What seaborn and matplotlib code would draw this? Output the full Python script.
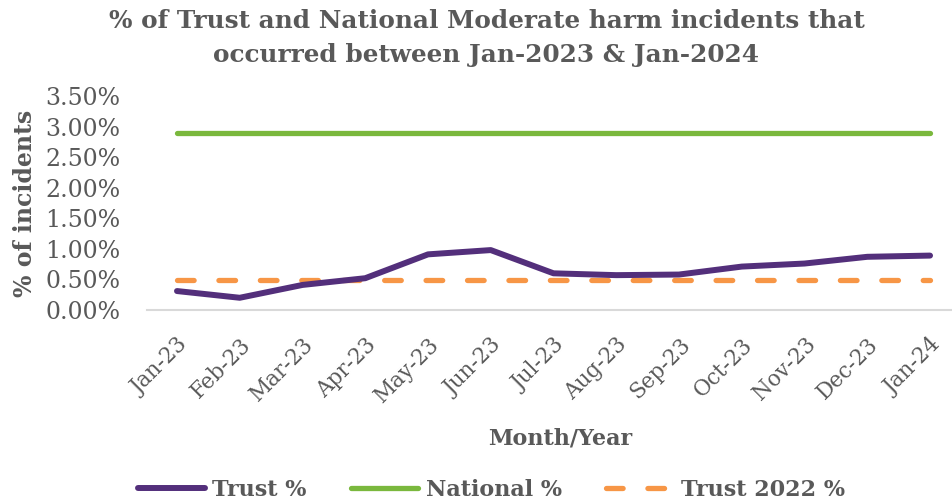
import matplotlib
matplotlib.use("Agg")
import matplotlib.pyplot as plt
import seaborn as sns
import pandas as pd
from matplotlib.ticker import FuncFormatter
from matplotlib.lines import Line2D

# Monthly data (percent of incidents)
months = ["Jan-23", "Feb-23", "Mar-23", "Apr-23", "May-23", "Jun-23", "Jul-23",
          "Aug-23", "Sep-23", "Oct-23", "Nov-23", "Dec-23", "Jan-24"]
trust_pct = [0.31, 0.20, 0.41, 0.52, 0.91, 0.98, 0.60, 0.57, 0.58, 0.71, 0.76, 0.87, 0.89]
national_pct = [2.90] * 13
trust_2022_pct = [0.49] * 13

df = pd.DataFrame({
    "idx": range(len(months)),
    "Month": months,
    "Trust %": trust_pct,
    "National %": national_pct,
    "Trust 2022 %": trust_2022_pct,
})

sns.set_theme(style="white")
plt.rcParams["font.family"] = ["DejaVu Serif", "DejaVu Sans"]

TEXT = "#595959"
PURPLE = "#532F7B"
GREEN = "#7AB83D"
ORANGE = "#F79646"
DASH = [3.15, 4.7]

fig = plt.figure(figsize=(9.52, 5.04), dpi=100)
ax = fig.add_axes([147 / 952, 1 - 310 / 504, 1 - 147 / 952, (310 - 96) / 504])

sns.lineplot(data=df, x="idx", y="National %", ax=ax, color=GREEN, lw=3.8,
             solid_capstyle="round")
sns.lineplot(data=df, x="idx", y="Trust 2022 %", ax=ax, color=ORANGE, lw=3.8)
ax.lines[-1].set_dashes(DASH)
ax.lines[-1].set_dash_capstyle("round")
sns.lineplot(data=df, x="idx", y="Trust %", ax=ax, color=PURPLE, lw=4.3,
             solid_capstyle="round", solid_joinstyle="round")

ax.set_xlim(-0.478, 12.35)
ax.set_ylim(0, 3.5)
ax.set_yticks([0, 0.5, 1.0, 1.5, 2.0, 2.5, 3.0, 3.5])
ax.yaxis.set_major_formatter(FuncFormatter(lambda v, p: f"{v:.2f}%"))
ax.tick_params(axis="y", labelsize=17, labelcolor=TEXT, length=0, pad=19)

ax.set_xticks(df["idx"])
ax.set_xticklabels(months, rotation=45, ha="right", rotation_mode="anchor",
                   fontsize=15.5, color=TEXT)
ax.tick_params(axis="x", length=0, pad=17)

for s in ["top", "right", "left"]:
    ax.spines[s].set_visible(False)
ax.spines["bottom"].set_color("#D9D9D9")
ax.spines["bottom"].set_linewidth(1.5)
ax.grid(False)

ax.set_xlabel("Month/Year", fontsize=16, fontweight="bold", color=TEXT)
ax.xaxis.set_label_coords(0.513, -0.55)
ax.set_ylabel("% of incidents", fontsize=17, fontweight="bold", color=TEXT)
ax.yaxis.set_label_coords(-0.137, 0.5)

fig.suptitle("% of Trust and National Moderate harm incidents that\n"
             "occurred between Jan-2023 & Jan-2024",
             x=0.511, y=0.983, fontsize=17.8, fontweight="bold", color=TEXT,
             linespacing=1.55)

handles = [
    Line2D([], [], color=PURPLE, lw=4.3, solid_capstyle="round"),
    Line2D([], [], color=GREEN, lw=3.8, solid_capstyle="round"),
    Line2D([], [], color=ORANGE, lw=3.8, dashes=DASH, dash_capstyle="round"),
]
leg = fig.legend(handles, ["Trust %", "National %", "Trust 2022 %"],
                 loc="center", bbox_to_anchor=(0.516, 0.028), ncol=3, frameon=False,
                 handlelength=3.0, handletextpad=0.35, columnspacing=2.0,
                 prop={"family": "DejaVu Serif", "weight": "bold", "size": 16})
for t in leg.get_texts():
    t.set_color(TEXT)

fig.savefig("out.png", dpi=100)
